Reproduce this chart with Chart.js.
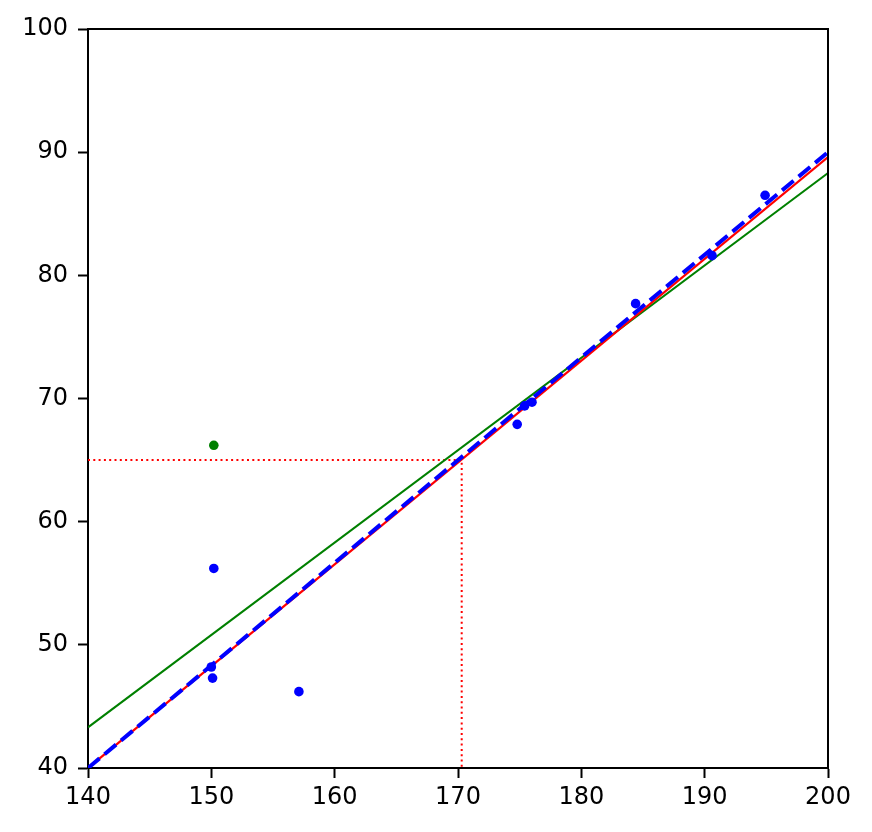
<!DOCTYPE html>
<html>
<head>
<meta charset="utf-8">
<script src="https://cdn.jsdelivr.net/npm/chart.js@4"></script>
<style>
  body { margin: 0; background: #fff; }
  canvas { display: block; }
</style>
</head>
<body>
<canvas id="myChart" width="872" height="832"></canvas>
<script>
// measured points
const xs = [150.0, 150.1, 150.2, 157.1, 174.8, 175.4, 176.0, 184.4, 190.6, 194.9];
const ys = [48.2, 47.3, 56.2, 46.2, 67.9, 69.4, 69.7, 77.7, 81.6, 86.5];
const outlierX = [150.2];
const outlierY = [66.2];

// fitted lines (end points at the axis limits)
const lineX = [140, 200];
const redY = [40, 89.6];
const blueY = [40, 90];
const greenY = [43.3, 88.3];

// dotted guide: predicted value at x0
const guideX = [140, 170.3, 170.3];
const guideY = [65.0, 65.0, 40];

const xTicks = [140, 150, 160, 170, 180, 190, 200];
const yTicks = [40, 50, 60, 70, 80, 90, 100];

const pts = (a, b) => a.map((v, i) => ({ x: v, y: b[i] }));

const ctx = document.getElementById('myChart').getContext('2d');
const tickFont = { family: 'DejaVu Sans', size: 24, lineHeight: 1 };

new Chart(ctx, {
    type: 'scatter',
    data: {
        datasets: [
            { data: pts(guideX, guideY), showLine: true, borderColor: '#ff0000', borderWidth: 2,
              borderDash: [2, 3.3], pointRadius: 0, order: 5 },
            { data: pts(lineX, greenY), showLine: true, borderColor: '#008000', borderWidth: 2,
              pointRadius: 0, order: 4 },
            { data: pts(lineX, redY), showLine: true, borderColor: '#ff0000', borderWidth: 2.2,
              pointRadius: 0, order: 3 },
            { data: pts(lineX, blueY), showLine: true, borderColor: '#0000ff', borderWidth: 4,
              borderDash: [15, 6.5], pointRadius: 0, order: 2 },
            { data: pts(xs, ys), backgroundColor: '#0000ff', borderWidth: 0, pointRadius: 4.8, order: 1 },
            { data: pts(outlierX, outlierY), backgroundColor: '#008000', borderWidth: 0, pointRadius: 4.8, order: 1 }
        ]
    },
    options: {
        responsive: false,
        animation: false,
        layout: { padding: { left: 0, top: 29, right: 44, bottom: 0 } },
        plugins: { legend: { display: false }, tooltip: { enabled: false } },
        scales: {
            x: {
                type: 'linear', min: 140, max: 200,
                afterBuildTicks: s => { s.ticks = xTicks.map(v => ({ value: v })); },
                afterFit: s => { s.height = 64; },
                grid: { drawOnChartArea: false, color: '#000', tickLength: 10, tickWidth: 2 },
                border: { color: '#000', width: 2 },
                ticks: { color: '#000', font: tickFont, padding: 8, maxRotation: 0 }
            },
            y: {
                type: 'linear', min: 40, max: 100,
                afterBuildTicks: s => { s.ticks = yTicks.map(v => ({ value: v })); },
                afterFit: s => { s.width = 88; },
                grid: { drawOnChartArea: false, color: '#000', tickLength: 10, tickWidth: 2 },
                border: { color: '#000', width: 2 },
                ticks: { color: '#000', font: tickFont, padding: 10 }
            }
        }
    },
    plugins: [{
        // top and right spines
        id: 'frame',
        afterDraw(chart) {
            const { ctx, chartArea: a } = chart;
            ctx.save();
            ctx.strokeStyle = '#000';
            ctx.lineWidth = 2;
            ctx.beginPath();
            ctx.moveTo(a.left, a.top);
            ctx.lineTo(a.right, a.top);
            ctx.lineTo(a.right, a.bottom);
            ctx.stroke();
            ctx.restore();
        }
    }]
});
</script>
</body>
</html>
